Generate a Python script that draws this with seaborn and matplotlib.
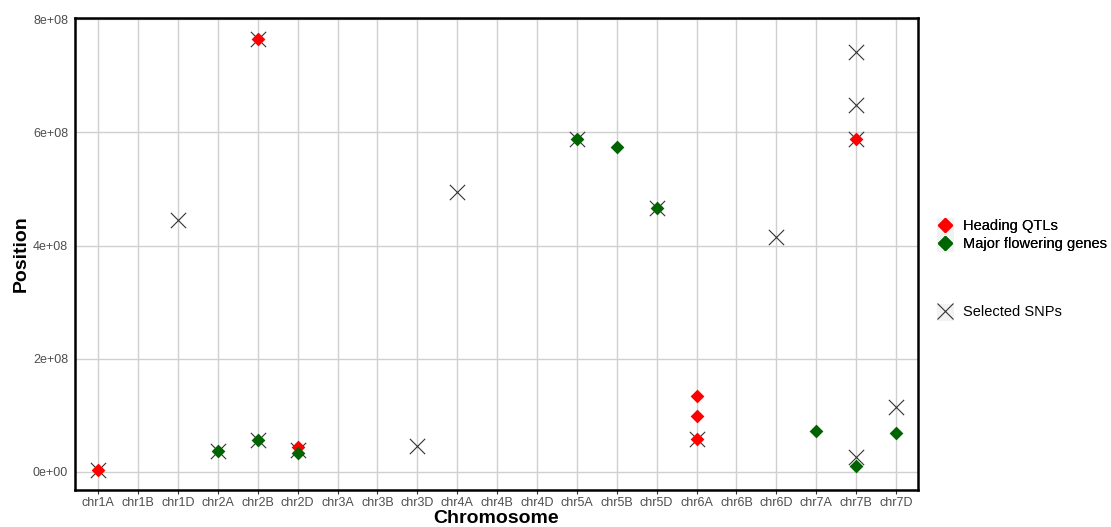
import numpy as np
import pandas as pd
import matplotlib
matplotlib.use("Agg")
import matplotlib.pyplot as plt
from matplotlib.lines import Line2D
from matplotlib.patches import Rectangle
import seaborn as sns

chromosomes = ["chr1A", "chr1B", "chr1D", "chr2A", "chr2B", "chr2D", "chr3A", "chr3B", "chr3D",
               "chr4A", "chr4B", "chr4D", "chr5A", "chr5B", "chr5D", "chr6A", "chr6B", "chr6D",
               "chr7A", "chr7B", "chr7D"]

qtl_chr = ["chr1A", "chr2B", "chr2D", "chr6A", "chr6A", "chr6A", "chr7B"]
qtl_pos = [3.5e6, 7.65e8, 4.4e7, 1.34e8, 9.9e7, 5.8e7, 5.88e8]

gene_chr = ["chr2A", "chr2B", "chr2D", "chr5A", "chr5B", "chr5D", "chr7A", "chr7B", "chr7D"]
gene_pos = [3.7e7, 5.7e7, 3.4e7, 5.88e8, 5.74e8, 4.67e8, 7.2e7, 1.1e7, 6.9e7]

snp_chr = ["chr1A", "chr1D", "chr2A", "chr2B", "chr2B", "chr2D", "chr3D", "chr4A", "chr5A",
           "chr5D", "chr6A", "chr6D", "chr7B", "chr7B", "chr7B", "chr7B", "chr7D"]
snp_pos = [4e6, 4.45e8, 3.7e7, 7.65e8, 5.7e7, 3.9e7, 4.6e7, 4.95e8, 5.88e8,
           4.67e8, 5.8e7, 4.15e8, 7.42e8, 6.48e8, 5.88e8, 2.7e7, 1.15e8]

y_ticks = [0, 2e8, 4e8, 6e8, 8e8]
y_tick_labels = ["0e+00", "2e+08", "4e+08", "6e+08", "8e+08"]

sns.set_style("white")
plt.rcParams['font.family'] = ['Liberation Sans', 'DejaVu Sans']

fig = plt.figure(figsize=(11.11, 5.27), dpi=100)
ax = fig.add_axes([75/1111, 1-490/527, (918-75)/1111, (490-18)/527])

snp_df = pd.DataFrame({"chr": snp_chr, "pos": snp_pos})
qtl_df = pd.DataFrame({"chr": qtl_chr, "pos": qtl_pos})
gene_df = pd.DataFrame({"chr": gene_chr, "pos": gene_pos})

sns.stripplot(data=snp_df, x="chr", y="pos", order=chromosomes, jitter=False, marker="x",
              color="#333333", size=11, linewidth=0.8, ax=ax, zorder=3)
sns.stripplot(data=qtl_df, x="chr", y="pos", order=chromosomes, jitter=False, marker="D",
              color="#FF0000", size=7, linewidth=0, ax=ax, zorder=4)
sns.stripplot(data=gene_df, x="chr", y="pos", order=chromosomes, jitter=False, marker="D",
              color="#006400", size=7, linewidth=0, ax=ax, zorder=4)

ax.set_xlim(-0.58, len(chromosomes) - 1 + 0.55)
ax.set_ylim(-0.32e8, 8.02e8)
ax.set_yticks(y_ticks)
ax.set_yticklabels(y_tick_labels)
ax.set_yticks([1e8, 3e8, 5e8, 7e8], minor=True)

ax.grid(True, which="major", color="#D0D0D0", linewidth=1.0)
ax.xaxis.grid(True, color="#D0D0D0", linewidth=1.0)
ax.set_axisbelow(True)
for s in ax.spines.values():
    s.set_visible(True)
    s.set_color("black")
    s.set_linewidth(1.8)

ax.tick_params(axis="both", which="major", length=3, width=0.8, color="#333333",
               labelcolor="#4D4D4D", labelsize=9, pad=2)
ax.tick_params(axis="y", which="minor", length=2, width=0.5, color="#CCCCCC")
ax.tick_params(axis="x", bottom=True)

ax.set_xlabel("Chromosome", fontsize=14, fontweight="bold", labelpad=1, color="black")
ax.set_ylabel("Position", fontsize=14, fontweight="bold", labelpad=2, color="black")

# legend key backgrounds
for yc in (226, 243, 312):
    fig.add_artist(Rectangle(((937)/1111, 1-(yc+8.5)/527), 17/1111, 17/527,
                             transform=fig.transFigure, facecolor="#F2F2F2",
                             edgecolor="none", zorder=0))

h1 = [Line2D([], [], marker="D", color="#FF0000", linestyle="none", markersize=7),
      Line2D([], [], marker="D", color="#006400", linestyle="none", markersize=7)]
leg1 = fig.legend(h1, ["Heading QTLs", "Major flowering genes"], loc="center left",
                  bbox_to_anchor=(932/1111, 1-235/527), frameon=False, fontsize=10.5,
                  handlelength=1.0, handletextpad=0.7, labelspacing=0.25, borderaxespad=0,
                  labelcolor="black")
h2 = [Line2D([], [], marker="x", color="#333333", linestyle="none", markersize=11,
             markeredgewidth=0.8)]
leg2 = fig.legend(h2, ["Selected SNPs"], loc="center left",
                  bbox_to_anchor=(932/1111, 1-312/527), frameon=False, fontsize=10.5,
                  handlelength=1.0, handletextpad=0.7, borderaxespad=0, labelcolor="black")
fig.add_artist(leg1)

fig.savefig("out.png", dpi=100)
